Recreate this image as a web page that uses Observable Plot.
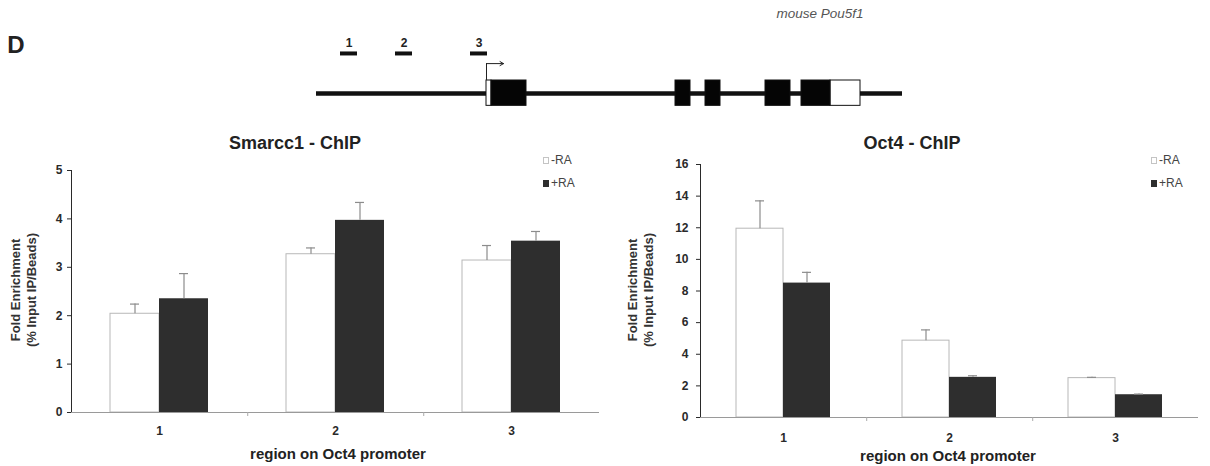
<!DOCTYPE html>
<html>
<head>
<meta charset="utf-8">
<script src="https://cdn.jsdelivr.net/npm/d3@7"></script>
<script src="https://cdn.jsdelivr.net/npm/@observablehq/plot@0.6"></script>
<style>
  body { margin: 0; background: #fff; }
  #root { position: relative; width: 1210px; height: 466px; overflow: hidden;
          font-family: "Liberation Sans", Arial, sans-serif; color: #222; }
  .abs { position: absolute; white-space: nowrap; line-height: 1; }
  .plotbox { position: absolute; }
  .plotbox svg { display: block; }
  .plotbox g[aria-label="y-axis tick"], .plotbox g[aria-label="y-axis line"] { stroke: #999; }
  .plotbox g[aria-label="y-axis tick label"], .plotbox g[aria-label="fx-axis tick label"] { stroke: none; fill: #2a2a2a; }
</style>
</head>
<body>
<div id="root"></div>
<script>
// ---------- data ----------
const regions = ["1", "2", "3"];
const conditions = ["-RA", "+RA"];

// Smarcc1 ChIP (fold enrichment, % input IP/beads)
const smarcc1Minus    = [2.04, 3.27, 3.14];
const smarcc1MinusErr = [0.20, 0.13, 0.31];
const smarcc1Plus     = [2.35, 3.97, 3.54];
const smarcc1PlusErr  = [0.52, 0.37, 0.20];
const smarcc1Ticks    = [0, 1, 2, 3, 4, 5];

// Oct4 ChIP
const oct4Minus    = [11.94, 4.86, 2.49];
const oct4MinusErr = [1.76, 0.68, 0.05];
const oct4Plus     = [8.50, 2.54, 1.44];
const oct4PlusErr  = [0.68, 0.10, 0.04];
const oct4Ticks    = [0, 2, 4, 6, 8, 10, 12, 14, 16];

// mouse Pou5f1 gene diagram (bp relative to TSS)
const locusStart = -1700, locusEnd = 4160;
const exonStarts = [0, 50, 1890, 2190, 2790, 3150, 3440];
const exonEnds   = [50, 400, 2040, 2340, 3040, 3440, 3740];
const exonCoding = [false, true, true, true, true, true, false];
const ampliconNames  = ["1", "2", "3"];
const ampliconStarts = [-1460, -910, -160];
const ampliconEnds   = [-1290, -740, 10];
const tssPositions   = [0];
const tssArrowLength = 170;

// ---------- helpers ----------
const root = document.getElementById("root");
const FONT = '"Liberation Sans", Arial, sans-serif';

function label(text, x, y, css) {
  const d = document.createElement("div");
  d.className = "abs";
  d.textContent = text;
  d.style.left = x + "px";
  d.style.top = y + "px";
  d.style.transform = "translate(-50%,-50%)";
  Object.assign(d.style, css || {});
  root.appendChild(d);
  return d;
}
function place(node, left, top) {
  const w = document.createElement("div");
  w.className = "plotbox";
  w.style.left = left + "px";
  w.style.top = top + "px";
  w.appendChild(node);
  root.appendChild(w);
}
function yLabel(cx, cy) {
  const d = document.createElement("div");
  d.className = "abs";
  d.style.left = cx + "px";
  d.style.top = cy + "px";
  d.style.transform = "translate(-50%,-50%) rotate(-90deg)";
  d.style.textAlign = "center";
  d.style.font = "bold 13px " + FONT;
  d.style.lineHeight = "16px";
  d.style.color = "#333";
  d.innerHTML = "Fold Enrichment<br>(% Input IP/Beads)";
  root.appendChild(d);
}
function legend(x, y) {
  conditions.forEach((c, i) => {
    const sq = document.createElement("div");
    sq.className = "abs";
    sq.style.left = x + "px";
    sq.style.top = (y + i * 23 - 3.5) + "px";
    sq.style.width = "6px";
    sq.style.height = "7px";
    sq.style.boxSizing = "border-box";
    sq.style.background = c === "+RA" ? "#2e2e2e" : "#fff";
    sq.style.border = c === "+RA" ? "1px solid #2e2e2e" : "1px solid #c4c4c4";
    root.appendChild(sq);
    const t = document.createElement("div");
    t.className = "abs";
    t.textContent = c;
    t.style.left = (x + 8) + "px";
    t.style.top = (y + i * 23) + "px";
    t.style.transform = "translateY(-50%)";
    t.style.font = "12px " + FONT;
    t.style.color = "#444";
    root.appendChild(t);
  });
}

function barChart(o) {
  const rows = [];
  regions.forEach((r, i) => {
    rows.push({region: r, cond: "-RA", value: o.minus[i], err: o.minusErr[i]});
    rows.push({region: r, cond: "+RA", value: o.plus[i], err: o.plusErr[i]});
  });
  const yMax = o.ticks[o.ticks.length - 1];
  const facetW = (o.width - o.marginLeft - o.marginRight) / regions.length;
  const step = facetW / (conditions.length + 2 * o.paddingOuter);
  const firstCenter = step * o.paddingOuter + step / 2;
  const pxPerUnit = (o.height - o.marginTop - o.marginBottom) / yMax;
  return Plot.plot({
    width: o.width, height: o.height,
    marginLeft: o.marginLeft, marginRight: o.marginRight,
    marginTop: o.marginTop, marginBottom: o.marginBottom,
    style: {fontFamily: FONT, fontSize: "12px", fontWeight: "bold", color: "#2a2a2a", background: "transparent", overflow: "visible"},
    fx: {domain: regions, padding: 0, axis: "bottom", label: null, tickSize: 0, tickPadding: o.fxPad},
    x: {domain: conditions, paddingInner: 0, paddingOuter: o.paddingOuter, align: 0.5, axis: null},
    y: {domain: [0, yMax], ticks: o.ticks, tickFormat: d => String(d), tickSize: 4, tickPadding: o.yPad, line: true, label: null},
    marks: [
      Plot.barY(rows.filter(d => d.cond === "-RA"), {fx: "region", x: "cond", y: "value", fill: "#fff", stroke: "#b8b8b8", strokeWidth: 1}),
      Plot.barY(rows.filter(d => d.cond === "+RA"), {fx: "region", x: "cond", y: "value", fill: "#2e2e2e"}),
      Plot.ruleX(rows, {fx: "region", x: "cond", y1: "value", y2: d => d.value + d.err, stroke: "#8c8c8c", strokeWidth: 1.2}),
      Plot.tickY(rows, {fx: "region", x: "cond", y: d => d.value + d.err, stroke: "#8c8c8c", strokeWidth: 1.2, insetLeft: o.capInset, insetRight: o.capInset}),
      Plot.ruleY([0], {stroke: "#9a9a9a", strokeWidth: 1}),
      Plot.ruleX(regions.slice(1), {fx: d => d, x: () => conditions[0], dx: -firstCenter, y1: 0, y2: -4 / pxPerUnit, stroke: "#aaa"})
    ]
  });
}

// ---------- gene diagram ----------
const exons = exonStarts.map((s, i) => ({start: s, end: exonEnds[i], coding: exonCoding[i]}));
const amplicons = ampliconNames.map((n, i) => ({name: n, start: ampliconStarts[i], end: ampliconEnds[i]}));

const diagram = Plot.plot({
  width: 1210, height: 120, margin: 0,
  style: {fontFamily: FONT, background: "transparent", overflow: "visible"},
  x: {domain: [-4860, 7240], axis: null},
  y: {domain: [-2.077, 7.154], axis: null},
  marks: [
    Plot.ruleY([{start: locusStart, end: locusEnd}], {y: 0, x1: "start", x2: "end", stroke: "#111", strokeWidth: 4.5}),
    Plot.rect(exons.filter(d => !d.coding), {x1: "start", x2: "end", y1: -0.95, y2: 1, fill: "#fff", stroke: "#111", strokeWidth: 1}),
    Plot.rect(exons.filter(d => d.coding), {x1: "start", x2: "end", y1: -0.95, y2: 1, fill: "#050505", stroke: "#111", strokeWidth: 1}),
    Plot.ruleX(tssPositions, {x: d => d, y1: 1, y2: 2.3, stroke: "#222", strokeWidth: 1}),
    Plot.arrow(tssPositions, {x1: d => d, x2: d => d + tssArrowLength, y1: 2.3, y2: 2.3, stroke: "#222", strokeWidth: 1, headLength: 6}),
    Plot.ruleY(amplicons, {y: 3.08, x1: "start", x2: "end", stroke: "#111", strokeWidth: 4}),
    Plot.text(amplicons, {x: d => (d.start + d.end) / 2, y: 3.08, dy: -10, text: "name", fontSize: 12, fontWeight: "bold", fill: "#222"})
  ]
});
place(diagram, 0, 0);
label("D", 16, 45, {font: "bold 24px " + FONT, color: "#222"});
label("mouse Pou5f1", 820, 13, {font: "italic 13.5px " + FONT, color: "#555"});

// ---------- Smarcc1 chart ----------
place(barChart({
  minus: smarcc1Minus, minusErr: smarcc1MinusErr, plus: smarcc1Plus, plusErr: smarcc1PlusErr,
  ticks: smarcc1Ticks, width: 605, height: 346,
  marginLeft: 71, marginRight: 6, marginTop: 50, marginBottom: 54,
  paddingOuter: 0.78, capInset: 20, fxPad: 14, yPad: 5
}), 0, 120);
label("Smarcc1 - ChIP", 295, 143, {font: "bold 18px " + FONT, color: "#222"});
label("region on Oct4 promoter", 338, 453, {font: "bold 15px " + FONT, color: "#222"});
yLabel(24, 290);
legend(543, 160);

// ---------- Oct4 chart ----------
place(barChart({
  minus: oct4Minus, minusErr: oct4MinusErr, plus: oct4Plus, plusErr: oct4PlusErr,
  ticks: oct4Ticks, width: 605, height: 346,
  marginLeft: 95, marginRight: 12, marginTop: 44, marginBottom: 49,
  paddingOuter: 0.75, capInset: 19, fxPad: 16, yPad: 8
}), 605, 120);
label("Oct4 - ChIP", 912, 143, {font: "bold 18px " + FONT, color: "#222"});
label("region on Oct4 promoter", 948, 455, {font: "bold 15px " + FONT, color: "#222"});
yLabel(641, 290);
legend(1151, 160);
</script>
</body>
</html>
